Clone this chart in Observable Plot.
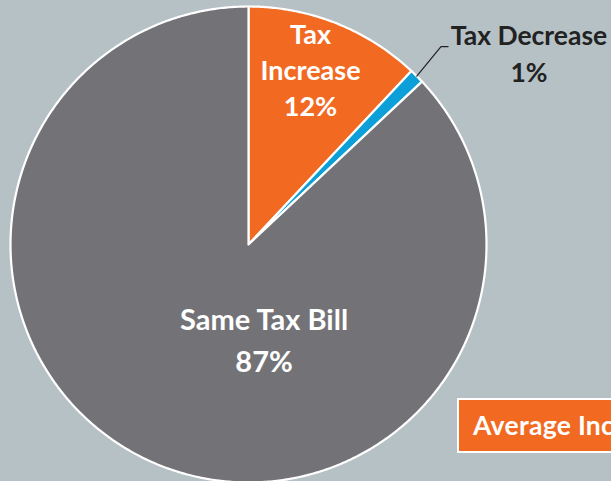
<!DOCTYPE html>
<html>
<head>
<meta charset="utf-8">
<script src="https://cdn.jsdelivr.net/npm/d3@7"></script>
<script src="https://cdn.jsdelivr.net/npm/@observablehq/plot@0.6"></script>
<style>
  html, body { margin: 0; padding: 0; width: 611px; height: 481px; overflow: hidden; background: #b6c1c6; }
  #wrap { position: relative; width: 611px; height: 481px; }
  #box { position: absolute; left: 457px; top: 398px; width: 200px; height: 55px; box-sizing: border-box;
         background: #f26a22; border: 2px solid #ffffff; color: #fff; font: bold 26.5px Lato, sans-serif;
         letter-spacing: 0.3px; line-height: 51px; padding-left: 14px; white-space: nowrap; overflow: hidden; }
</style>
</head>
<body>
<div id="wrap"></div>
<script>
// Data
const labels = ["Tax Increase", "Tax Decrease", "Same Tax Bill"];
const shares = [12, 1, 87];
const colors = ["#f26a22", "#0d9fd8", "#737377"];
const labelTexts = ["Tax\nIncrease\n12%", "Tax Decrease\n1%", "Same Tax Bill\n87%"];
const boxText = "Average Increase";

// Build slice polygons from pie angles (unit radius)
const arcs = d3.pie().sort(null).value(d => d)(shares);
const pt = (a, r) => ({x: r * Math.sin(a), y: r * Math.cos(a)});
const slices = [];
arcs.forEach((arc, i) => {
  const lab = labels[i];
  slices.push({label: lab, ...pt(0, 0)});
  const n = Math.max(2, Math.ceil((arc.endAngle - arc.startAngle) / (Math.PI / 360)));
  for (let k = 0; k <= n; k++) {
    const a = arc.startAngle + (arc.endAngle - arc.startAngle) * k / n;
    slices.push({label: lab, ...pt(a, 1)});
  }
  slices.push({label: lab, ...pt(0, 0)});
});

const mid = i => (arcs[i].startAngle + arcs[i].endAngle) / 2;
const deg = Math.PI / 180;

// label positions (polar placement relative to pie)
const incLabel = [{...pt(19.4 * deg, 0.784), text: labelTexts[0]}];
const sameLabel = [{...pt(170.5 * deg, 0.396), text: labelTexts[2]}];
const decLabel = [{...pt(55.47 * deg, 1.4306), text: labelTexts[1]}];

// leader line for the small slice
const m1 = mid(1);
const rim = pt(m1, 1.0);
const elbow = pt(m1 - 0.8 * deg, 1.16);
const leader = [rim, elbow, {x: elbow.x + 0.03, y: elbow.y}];

const R = 238, cx = 248, cy = 244;
const chart = Plot.plot({
  width: 611,
  height: 481,
  margin: 0,
  x: {domain: [-cx / R, (611 - cx) / R], axis: null},
  y: {domain: [-(481 - cy) / R, cy / R], axis: null},
  color: {domain: labels, range: colors},
  style: {background: "transparent", overflow: "visible"},
  marks: [
    Plot.line(slices, {x: "x", y: "y", z: "label", fill: "label", stroke: "white", strokeWidth: 2.2, strokeLinejoin: "round"}),
    Plot.line(leader, {x: "x", y: "y", stroke: "#222", strokeWidth: 1.2}),
    Plot.text(incLabel, {x: "x", y: "y", text: "text", fill: "white", fontSize: 27, fontWeight: "bold", fontFamily: "Lato", lineHeight: 36 / 27}),
    Plot.text(sameLabel, {x: "x", y: "y", text: "text", fill: "white", fontSize: 29, fontWeight: "bold", fontFamily: "Lato", lineHeight: 42 / 29}),
    Plot.text(decLabel, {x: "x", y: "y", text: "text", fill: "#222", fontSize: 26.5, fontWeight: "bold", fontFamily: "Lato", lineHeight: 37 / 26.5})
  ]
});
const wrap = document.getElementById("wrap");
wrap.appendChild(chart);
const box = document.createElement("div");
box.id = "box";
box.textContent = boxText;
wrap.appendChild(box);
</script>
</body>
</html>
